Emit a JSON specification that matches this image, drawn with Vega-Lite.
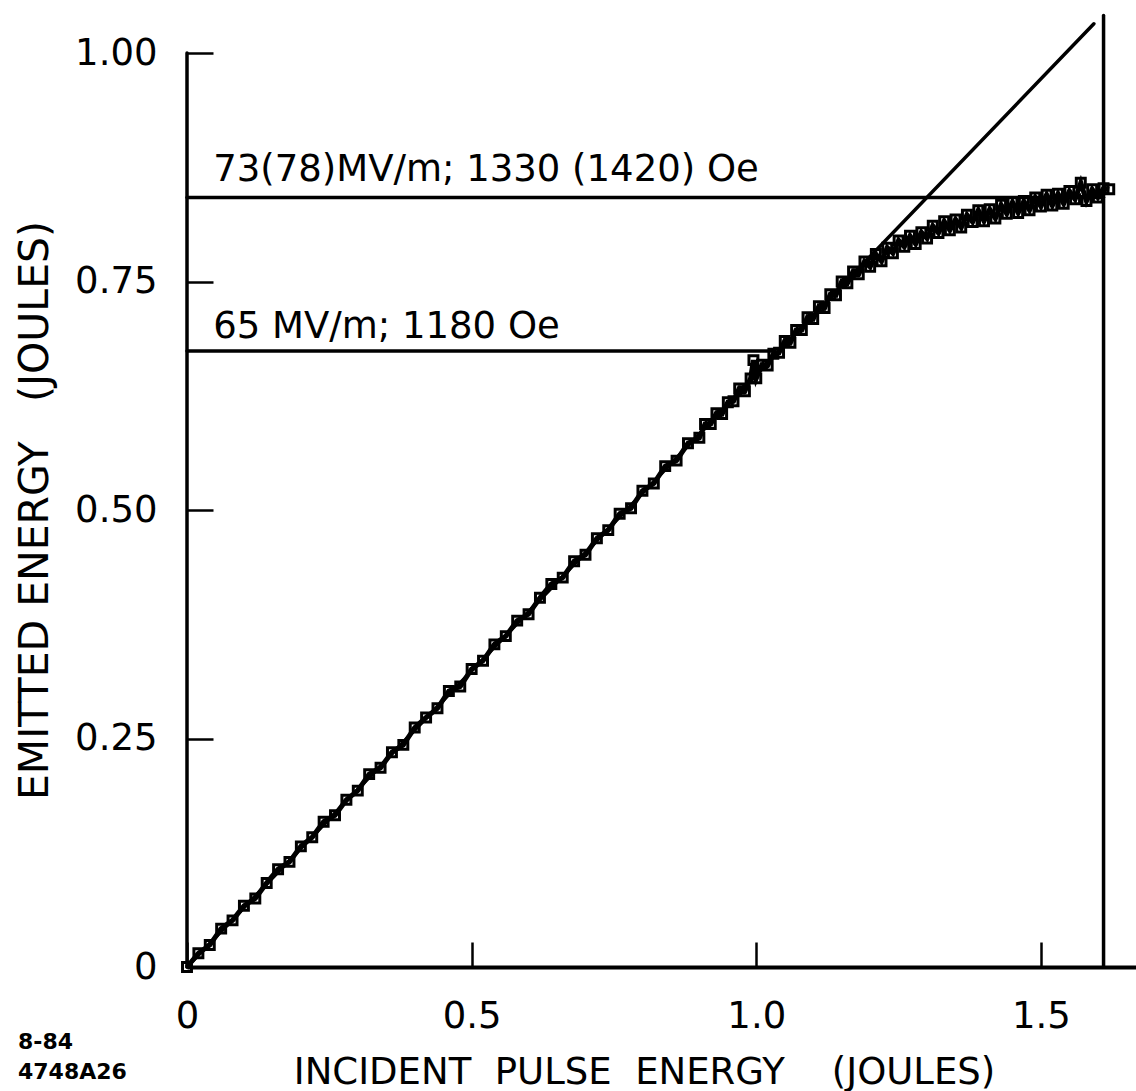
{
  "$schema": "https://vega.github.io/schema/vega-lite/v6.json",
  "width": 949,
  "height": 967,
  "autosize": {"type": "none"},
  "padding": {"left": 187, "top": 0, "right": 0, "bottom": 124},
  "background": "white",
  "config": {
    "view": {"stroke": null},
    "font": "DejaVu Sans"
  },
  "title": {
    "text": ["8-84", "4748A26"],
    "orient": "bottom",
    "anchor": "start",
    "frame": "group",
    "align": "left",
    "baseline": "top",
    "dx": -169,
    "dy": -62,
    "fontSize": 22,
    "fontWeight": "bold",
    "lineHeight": 30,
    "color": "black"
  },
  "datasets": {
    "lines": [
      {"name": "diagonal", "x": 0, "y": 0, "x2": 1.593, "y2": 1.032},
      {"name": "upper", "x": 0, "y": 0.842, "x2": 1.61, "y2": 0.842},
      {"name": "lower", "x": 0, "y": 0.674, "x2": 1.028, "y2": 0.674},
      {"name": "right", "x": 1.61, "y": 0, "x2": 1.61, "y2": 1.041},
      {"name": "yaxis", "x": 0, "y": 0, "x2": 0, "y2": 1.0}
    ],
    "notes": [
      {"x": 0.046, "y": 0.860, "label": "73(78)MV/m; 1330 (1420) Oe"},
      {"x": 0.046, "y": 0.688, "label": "65 MV/m; 1180 Oe"}
    ],
    "trace": [
      {"x": 0.00, "y": 0.000}, {"x": 0.02, "y": 0.015}, {"x": 0.04, "y": 0.024}, {"x": 0.06, "y": 0.042},
      {"x": 0.08, "y": 0.051}, {"x": 0.10, "y": 0.067}, {"x": 0.12, "y": 0.075}, {"x": 0.14, "y": 0.092},
      {"x": 0.16, "y": 0.107}, {"x": 0.18, "y": 0.115}, {"x": 0.20, "y": 0.132}, {"x": 0.22, "y": 0.142},
      {"x": 0.24, "y": 0.159}, {"x": 0.26, "y": 0.166}, {"x": 0.28, "y": 0.183}, {"x": 0.30, "y": 0.193},
      {"x": 0.32, "y": 0.211}, {"x": 0.34, "y": 0.218}, {"x": 0.36, "y": 0.235}, {"x": 0.38, "y": 0.243},
      {"x": 0.40, "y": 0.262}, {"x": 0.42, "y": 0.273}, {"x": 0.44, "y": 0.283}, {"x": 0.46, "y": 0.302},
      {"x": 0.48, "y": 0.307}, {"x": 0.50, "y": 0.326}, {"x": 0.52, "y": 0.335}, {"x": 0.54, "y": 0.353},
      {"x": 0.56, "y": 0.362}, {"x": 0.58, "y": 0.379}, {"x": 0.60, "y": 0.386}, {"x": 0.62, "y": 0.404},
      {"x": 0.64, "y": 0.419}, {"x": 0.66, "y": 0.426}, {"x": 0.68, "y": 0.444}, {"x": 0.70, "y": 0.451},
      {"x": 0.72, "y": 0.469}, {"x": 0.74, "y": 0.478}, {"x": 0.76, "y": 0.496}, {"x": 0.78, "y": 0.502},
      {"x": 0.80, "y": 0.521}, {"x": 0.82, "y": 0.529}, {"x": 0.84, "y": 0.548}, {"x": 0.86, "y": 0.554},
      {"x": 0.88, "y": 0.573}, {"x": 0.90, "y": 0.579}, {"x": 0.91, "y": 0.594}, {"x": 0.92, "y": 0.594},
      {"x": 0.93, "y": 0.606}, {"x": 0.94, "y": 0.605}, {"x": 0.95, "y": 0.618}, {"x": 0.96, "y": 0.619},
      {"x": 0.97, "y": 0.633}, {"x": 0.98, "y": 0.630}, {"x": 0.99, "y": 0.644}, {"x": 0.995, "y": 0.664},
      {"x": 1.00, "y": 0.644}, {"x": 1.01, "y": 0.659}, {"x": 1.02, "y": 0.658}, {"x": 1.03, "y": 0.671},
      {"x": 1.04, "y": 0.672}, {"x": 1.05, "y": 0.685}, {"x": 1.06, "y": 0.683}, {"x": 1.07, "y": 0.697},
      {"x": 1.08, "y": 0.697}, {"x": 1.09, "y": 0.711}, {"x": 1.10, "y": 0.709}, {"x": 1.11, "y": 0.723},
      {"x": 1.12, "y": 0.721}, {"x": 1.13, "y": 0.736}, {"x": 1.14, "y": 0.735}, {"x": 1.15, "y": 0.750},
      {"x": 1.16, "y": 0.748}, {"x": 1.17, "y": 0.761}, {"x": 1.18, "y": 0.758}, {"x": 1.19, "y": 0.772},
      {"x": 1.20, "y": 0.766}, {"x": 1.21, "y": 0.780}, {"x": 1.22, "y": 0.772}, {"x": 1.23, "y": 0.787},
      {"x": 1.24, "y": 0.781}, {"x": 1.25, "y": 0.795}, {"x": 1.26, "y": 0.788}, {"x": 1.27, "y": 0.800},
      {"x": 1.28, "y": 0.791}, {"x": 1.29, "y": 0.804}, {"x": 1.30, "y": 0.797}, {"x": 1.31, "y": 0.811},
      {"x": 1.32, "y": 0.803}, {"x": 1.33, "y": 0.816}, {"x": 1.34, "y": 0.806}, {"x": 1.35, "y": 0.818},
      {"x": 1.36, "y": 0.809}, {"x": 1.37, "y": 0.823}, {"x": 1.38, "y": 0.815}, {"x": 1.39, "y": 0.828},
      {"x": 1.40, "y": 0.816}, {"x": 1.41, "y": 0.829}, {"x": 1.42, "y": 0.819}, {"x": 1.43, "y": 0.834},
      {"x": 1.44, "y": 0.824}, {"x": 1.45, "y": 0.837}, {"x": 1.46, "y": 0.825}, {"x": 1.47, "y": 0.838},
      {"x": 1.48, "y": 0.828}, {"x": 1.49, "y": 0.842}, {"x": 1.50, "y": 0.832}, {"x": 1.51, "y": 0.845},
      {"x": 1.52, "y": 0.833}, {"x": 1.53, "y": 0.846}, {"x": 1.54, "y": 0.835}, {"x": 1.55, "y": 0.849},
      {"x": 1.56, "y": 0.840}, {"x": 1.57, "y": 0.858}, {"x": 1.58, "y": 0.838}, {"x": 1.59, "y": 0.851},
      {"x": 1.60, "y": 0.842}, {"x": 1.61, "y": 0.852}, {"x": 1.62, "y": 0.851}
    ]
  },
  "encoding": {
    "x": {
      "field": "x", "type": "quantitative",
      "scale": {"domain": [0, 1.667], "nice": false, "zero": false},
      "axis": {
        "title": "INCIDENT\u00a0 PULSE\u00a0 ENERGY\u00a0\u00a0\u00a0 (JOULES)",
        "values": [0, 0.5, 1.0, 1.5],
        "labelExpr": "datum.value == 0 ? '0' : format(datum.value, '.1f')",
        "labelFontSize": 37,
        "labelColor": "black",
        "labelPadding": 56,
        "labelFlush": false,
        "labelOverlap": false,
        "tickSize": -25,
        "tickWidth": 2.5,
        "tickColor": "black",
        "domainWidth": 4,
        "domainColor": "black",
        "grid": false,
        "titleFontSize": 37,
        "titleFontWeight": "normal",
        "titleColor": "black",
        "titleX": 457,
        "titleY": 116,
        "titleAlign": "center",
        "titleBaseline": "alphabetic"
      }
    },
    "y": {
      "field": "y", "type": "quantitative",
      "scale": {"domain": [0, 1.058], "nice": false, "zero": false},
      "axis": {
        "title": "EMITTED ENERGY\u00a0\u00a0 (JOULES)",
        "values": [0, 0.25, 0.5, 0.75, 1.0],
        "labelExpr": "datum.value == 0 ? '0' : format(datum.value, '.2f')",
        "labelFontSize": 37,
        "labelColor": "black",
        "labelPadding": 56,
        "labelFlush": false,
        "labelOverlap": false,
        "tickSize": -26,
        "tickWidth": 2.5,
        "tickColor": "black",
        "domain": false,
        "grid": false,
        "titleFontSize": 41,
        "titleFontWeight": "normal",
        "titleColor": "black",
        "titleX": -140,
        "titleY": 510,
        "titleAngle": -90,
        "titleAlign": "center",
        "titleBaseline": "alphabetic"
      }
    }
  },
  "layer": [
    {
      "data": {"name": "lines"},
      "mark": {"type": "rule", "color": "black", "strokeWidth": 3.5, "strokeCap": "round"},
      "encoding": {
        "x2": {"field": "x2"},
        "y2": {"field": "y2"}
      }
    },
    {
      "data": {"name": "trace"},
      "mark": {"type": "line", "color": "black", "strokeWidth": 5}
    },
    {
      "data": {"name": "trace"},
      "mark": {"type": "point", "shape": "square", "filled": false, "color": "black", "strokeWidth": 3, "size": 80, "opacity": 1}
    },
    {
      "data": {"name": "notes"},
      "mark": {"type": "text", "align": "left", "baseline": "alphabetic", "fontSize": 37, "color": "black"},
      "encoding": {
        "text": {"field": "label"}
      }
    }
  ]
}
